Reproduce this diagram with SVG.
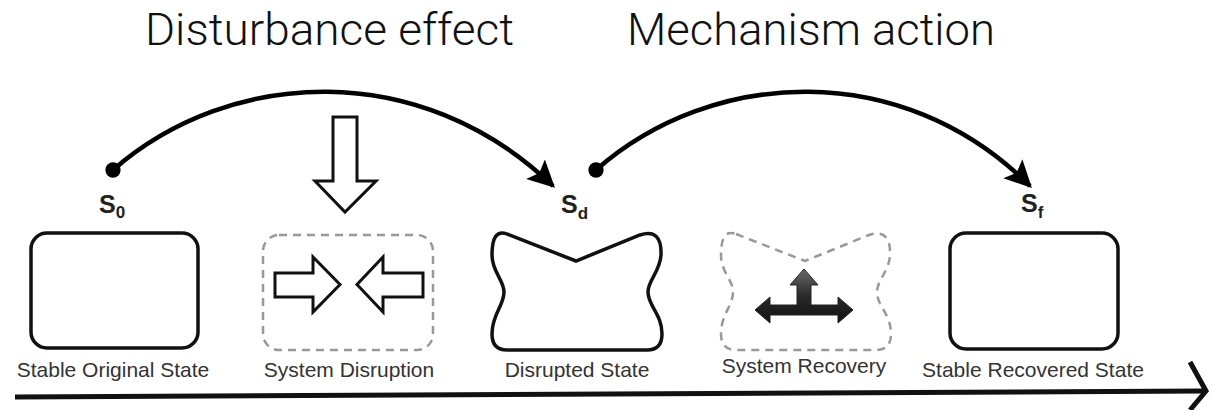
<svg xmlns="http://www.w3.org/2000/svg" width="1212" height="410" viewBox="0 0 1212 410">
<style>
.title{font-family:Roboto,"Liberation Sans",Arial,sans-serif;font-weight:300;font-size:45px;fill:#111;}
.lbl{font-family:"Liberation Sans",Arial,sans-serif;font-size:21px;fill:#333;text-anchor:middle;}
.s{font-family:"Liberation Sans",Arial,sans-serif;font-size:25px;font-weight:bold;fill:#222;}
.sub{font-size:17px;}
.box{fill:#fff;stroke:#111;stroke-width:3.5;}
.dash{fill:none;stroke:#999;stroke-width:2.5;stroke-dasharray:8 6;}
.hollow{fill:#fff;stroke:#111;stroke-width:3;stroke-linejoin:miter;}
.conn{fill:none;stroke:#000;stroke-width:4.5;}
</style>
<defs>
<marker id="head" viewBox="0 0 10 10" refX="9" refY="5" markerWidth="6" markerHeight="6" markerUnits="strokeWidth" orient="auto">
<path d="M0,0 L10,5 L0,10 L2,5 Z" fill="#000"/>
</marker>
<marker id="dot" viewBox="0 0 10 10" refX="5" refY="5" markerWidth="3.4" markerHeight="3.4" markerUnits="strokeWidth">
<circle cx="5" cy="5" r="5" fill="#000"/>
</marker>
<linearGradient id="glossy" x1="0" y1="0" x2="0" y2="1">
<stop offset="0" stop-color="#6a6a6a"/>
<stop offset="0.5" stop-color="#2a2a2a"/>
<stop offset="1" stop-color="#111"/>
</linearGradient>
<path id="blob" d="M507,234 L576,261 L640,235 Q662,228 661,255 C660,272 648,280 648,292 C648,306 662,314 662,334 Q662,350 647,350 L507,350 Q492,350 492,334 C492,314 504,306 504,292 C504,280 492,272 492,255 Q492,228 507,234 Z"/>
</defs>
<rect width="1212" height="410" fill="#fff"/>

<text class="title" x="145" y="45" textLength="369" lengthAdjust="spacingAndGlyphs">Disturbance effect</text>
<text class="title" x="627" y="45" textLength="368" lengthAdjust="spacingAndGlyphs">Mechanism action</text>

<g id="connectors">
<path class="conn" d="M113,170 C230,68 420,58 553,186" marker-start="url(#dot)" marker-end="url(#head)"/>
<path class="conn" d="M596,170 C712,68 902,58 1030,186" marker-start="url(#dot)" marker-end="url(#head)"/>
<path d="M15,397 L1204,391" fill="none" stroke="#111" stroke-width="5"/>
<path d="M1190,362 L1206,391 L1190,410" fill="none" stroke="#111" stroke-width="5" stroke-linejoin="miter"/>
</g>

<g id="stable-original">
<text class="s" x="99" y="213">S<tspan class="sub" dy="5">0</tspan></text>
<rect class="box" x="31" y="233" width="167" height="115" rx="16"/>
<text class="lbl" x="113" y="377">Stable Original State</text>
</g>

<g id="system-disruption">
<path class="hollow" d="M333,117 L357,117 L357,181 L376,181 L345,212 L315,181 L333,181 Z"/>
<rect class="dash" x="263" y="235" width="170" height="115" rx="16"/>
<path class="hollow" d="M275,273 L313,273 L313,257 L340,284.5 L313,312 L313,297 L275,297 Z"/>
<path class="hollow" d="M423,273 L383,273 L383,257 L357,284.5 L383,312 L383,297 L423,297 Z"/>
<text class="lbl" x="349" y="377">System Disruption</text>
</g>

<g id="disrupted-state">
<text class="s" x="561" y="213">S<tspan class="sub" dy="6">d</tspan></text>
<use href="#blob" class="box"/>
<text class="lbl" x="577" y="377">Disrupted State</text>
</g>

<g id="system-recovery">
<use href="#blob" class="dash" transform="translate(229,0)"/>
<path d="M755,310 L770,297 L770,305 L797,305 L797,285 L790,285 L804,269 L818,285 L811,285 L811,305 L838,305 L838,297 L853,310 L838,323 L838,315 L770,315 L770,323 Z" fill="url(#glossy)" stroke="#222" stroke-width="1"/>
<text class="lbl" x="804" y="373">System Recovery</text>
</g>

<g id="stable-recovered">
<text class="s" x="1021" y="212">S<tspan class="sub" dy="6">f</tspan></text>
<rect class="box" x="950" y="233" width="168" height="116" rx="16"/>
<text class="lbl" x="1033" y="377">Stable Recovered State</text>
</g>
</svg>
